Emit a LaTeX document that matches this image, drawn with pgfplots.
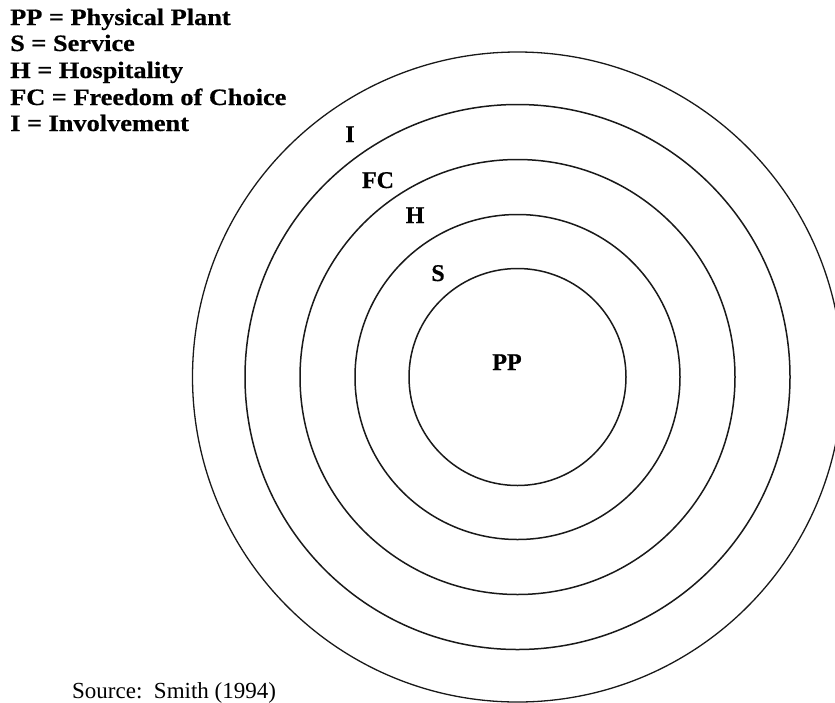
\documentclass[border=0pt]{standalone}
\usepackage{fontspec}
\setmainfont{Liberation Serif}
\newfontfamily\legfont[FakeStretch=1.12,FakeBold=0.6]{Liberation Serif}
\newfontfamily\ringfont[FakeBold=0.6]{Liberation Serif}
\usepackage{pgfplots}
\pgfplotsset{compat=1.18}
\begin{document}
\begin{tikzpicture}
\begin{axis}[
  scale only axis, width=835pt, height=702pt,
  xmin=0, xmax=835, ymin=0, ymax=702, y dir=reverse,
  hide axis, clip=true,
]
\addplot[draw=none, mark=none] coordinates {(0,0) (835,702)};
% concentric rings: centre (517.5,377), radii
\draw[line width=1.5pt, black!90] (axis cs:517.5,377) circle [radius=108.5];
\draw[line width=1.5pt, black!90] (axis cs:517.5,377) circle [radius=162.5];
\draw[line width=1.5pt, black!90] (axis cs:517.5,377) circle [radius=217.5];
\draw[line width=1.5pt, black!90] (axis cs:517.5,377) circle [radius=272.5];
\draw[line width=1.3pt, black!90] (axis cs:517.5,377) circle [radius=325];
% ring labels
\node[font=\ringfont\fontsize{24}{28}\selectfont\bfseries, anchor=base, inner sep=0pt] at (axis cs:350,142) {I};
\node[font=\ringfont\fontsize{24}{28}\selectfont\bfseries, anchor=base, inner sep=0pt] at (axis cs:378,188) {FC};
\node[font=\ringfont\fontsize{24}{28}\selectfont\bfseries, anchor=base, inner sep=0pt] at (axis cs:415,223) {H};
\node[font=\ringfont\fontsize{24}{28}\selectfont\bfseries, anchor=base, inner sep=0pt] at (axis cs:438,281) {S};
\node[font=\ringfont\fontsize{24}{28}\selectfont\bfseries, anchor=base, inner sep=0pt] at (axis cs:507,370) {PP};
% key
\node[font=\legfont\fontsize{23.5}{28}\selectfont\bfseries, anchor=base west, inner sep=0pt] at (axis cs:10,25) {PP = Physical Plant};
\node[font=\legfont\fontsize{23.5}{28}\selectfont\bfseries, anchor=base west, inner sep=0pt] at (axis cs:10,51) {S = Service};
\node[font=\legfont\fontsize{23.5}{28}\selectfont\bfseries, anchor=base west, inner sep=0pt] at (axis cs:10,78) {H = Hospitality};
\node[font=\legfont\fontsize{23.5}{28}\selectfont\bfseries, anchor=base west, inner sep=0pt] at (axis cs:10,105) {FC = Freedom of Choice};
\node[font=\legfont\fontsize{23.5}{28}\selectfont\bfseries, anchor=base west, inner sep=0pt] at (axis cs:10,131) {I = Involvement};
% source
\node[font=\fontsize{23}{27}\selectfont, anchor=base west, inner sep=0pt] at (axis cs:72,698) {Source:\ \ Smith (1994)};
\end{axis}
\pgfresetboundingbox
\useasboundingbox (0,0) rectangle (835pt,702pt);
\end{tikzpicture}
\end{document}
